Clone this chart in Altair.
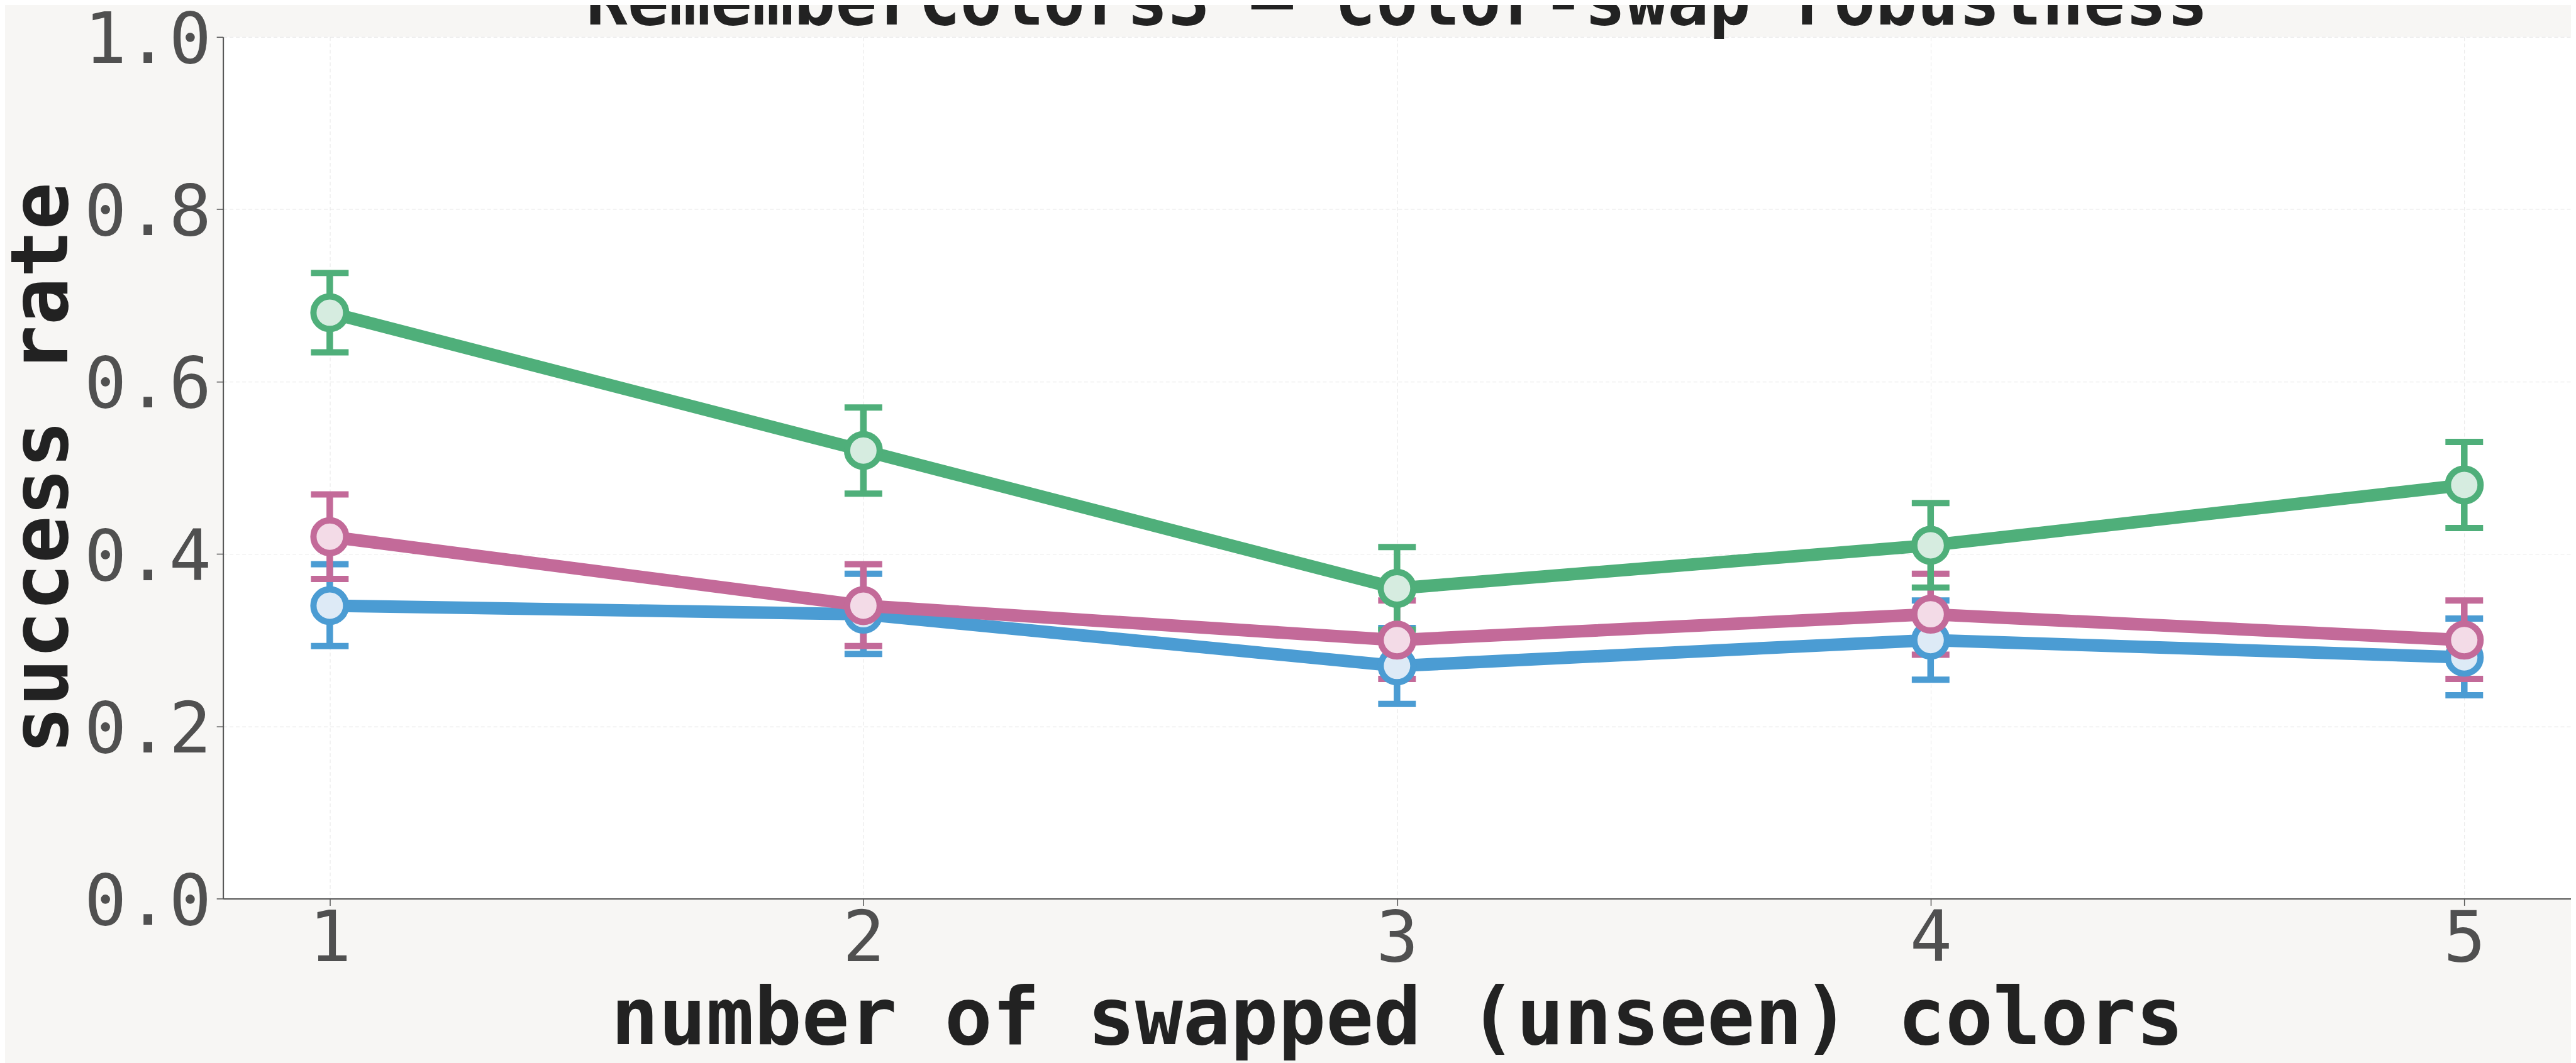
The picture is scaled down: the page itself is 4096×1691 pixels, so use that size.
import altair as alt
import pandas as pd

# ---- data ----
x_vals = [1, 2, 3, 4, 5]
series_names = ["blue run", "pink run", "green run"]

blue_mean = [0.34, 0.33, 0.27, 0.30, 0.28]
blue_lo = [0.293, 0.284, 0.226, 0.254, 0.236]
blue_hi = [0.388, 0.377, 0.314, 0.346, 0.325]

pink_mean = [0.42, 0.34, 0.30, 0.33, 0.30]
pink_lo = [0.371, 0.293, 0.255, 0.283, 0.255]
pink_hi = [0.469, 0.388, 0.346, 0.377, 0.346]

green_mean = [0.68, 0.52, 0.36, 0.41, 0.48]
green_lo = [0.634, 0.470, 0.312, 0.361, 0.430]
green_hi = [0.726, 0.570, 0.408, 0.459, 0.530]

line_colors = ["#4b9cd3", "#c36a99", "#4faf7a"]
fill_colors = ["#ddeaf6", "#f3dbe7", "#d6ece0"]

x_ticks = [1, 2, 3, 4, 5]
y_ticks = [0.0, 0.2, 0.4, 0.6, 0.8, 1.0]

TITLE = "RememberColors3 — color-swap robustness"
XT = "number of swapped (unseen) colors"
YT = "success rate"

rows = []
for name, m, lo, hi in zip(series_names,
                           [blue_mean, pink_mean, green_mean],
                           [blue_lo, pink_lo, green_lo],
                           [blue_hi, pink_hi, green_hi]):
    for xv, mv, lv, hv in zip(x_vals, m, lo, hi):
        rows.append({"series": name, "x": xv, "mean": mv, "lo": lv, "hi": hv})
df = pd.DataFrame(rows)

FONT = "DejaVu Sans Mono"
W, H = 3737, 1372

xscale = alt.Scale(domain=[0.8, 5.2], nice=False, zero=False)
yscale = alt.Scale(domain=[0.0, 1.0], nice=False, zero=False)

xaxis = alt.Axis(values=x_ticks, format="d", tickSize=11, labelPadding=88,
                 labelBaseline="alphabetic", labelFlush=False, labelLimit=1000,
                 titleBaseline="alphabetic", titleY=231)
yaxis = alt.Axis(values=y_ticks, format=".1f", tickSize=10.5, labelPadding=8.5,
                 labelBaseline="alphabetic", labelOffset=41, labelFlush=False,
                 labelLimit=1000,
                 titleBaseline="alphabetic", titleAngle=270, titleAlign="center",
                 titleX=-248, titleY=H / 2)


def X():
    return alt.X("x:Q", scale=xscale, axis=xaxis, title=XT)


def Y(field):
    return alt.Y(f"{field}:Q", scale=yscale, axis=yaxis, title=YT)


base = alt.Chart(df)
layers = []

# error bars (below all lines/markers)
for name, c in zip(series_names, line_colors):
    b = base.transform_filter(alt.datum.series == name)
    layers.append(b.mark_rule(strokeWidth=10.5, color=c).encode(
        x=X(), y=Y("lo"), y2="hi:Q"))
    layers.append(b.mark_tick(orient="horizontal", size=60, thickness=10,
                              color=c, opacity=1).encode(x=X(), y=Y("lo")))
    layers.append(b.mark_tick(orient="horizontal", size=60, thickness=10,
                              color=c, opacity=1).encode(x=X(), y=Y("hi")))

# lines with markers
for name, c, f in zip(series_names, line_colors, fill_colors):
    b = base.transform_filter(alt.datum.series == name)
    layers.append(b.mark_line(strokeWidth=20, color=c, strokeJoin="round").encode(
        x=X(), y=Y("mean"), order="x:Q"))
    layers.append(b.mark_point(shape="circle", size=2704, fill=f, stroke=c,
                               strokeWidth=10, opacity=1, fillOpacity=1).encode(
        x=X(), y=Y("mean")))

# chart title (partly above the top edge, as in the reference)
title_layer = alt.Chart(pd.DataFrame({"t": [TITLE]})).mark_text(
    font=FONT, fontSize=110, fontWeight="bold", color="#222222",
    align="center", baseline="alphabetic",
).encode(text="t:N", x=alt.value(W / 2), y=alt.value(-19.6))
layers.append(title_layer)

chart = alt.layer(*layers).properties(
    width=W,
    height=H,
    autosize=alt.AutoSizeParams(type="none"),
    padding={"left": 347, "top": 50, "right": 0, "bottom": 262},
    background="#f7f6f4",
).configure_view(
    fill="white", strokeWidth=0
).configure_axis(
    domainColor="#555555", domainWidth=2,
    tickColor="#555555", tickWidth=1.5,
    grid=True, gridColor="#e6e6e6", gridDash=[6, 4], gridWidth=1,
    labelFont=FONT, labelFontSize=112, labelColor="#505050",
    titleFont=FONT, titleFontSize=126, titleFontWeight="bold", titleColor="#222222",
)

chart.save("out.html", embed_options={"renderer": "svg", "actions": False})
